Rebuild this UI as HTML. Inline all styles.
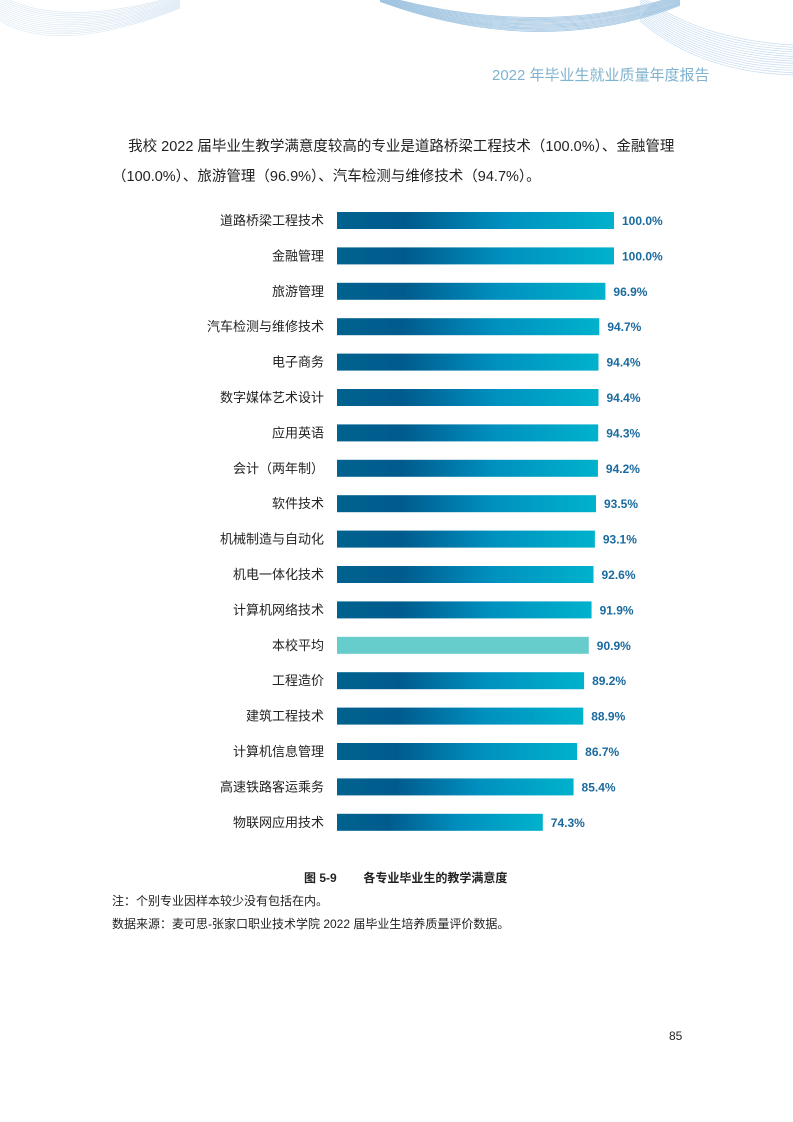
<!DOCTYPE html>
<html><head><meta charset="utf-8">
<style>
body{margin:0;background:#fff;}
#page{position:relative;width:793px;height:1122px;overflow:hidden;font-family:"Liberation Sans","Noto Sans CJK SC",sans-serif;color:#222;}
.t{position:absolute;white-space:nowrap;}
</style></head>
<body>
<div id="page">
<svg width="793" height="110" style="position:absolute;left:0;top:0">
<g fill="none" stroke="#9ec3e0" stroke-width="0.7" id="deco"></g>
</svg>
<div class="t" style="left:492px;top:64px;font-size:15px;color:#7fb3cf;">2022 年毕业生就业质量年度报告</div>
<div class="t" style="left:112px;top:132px;font-size:14.5px;line-height:30px;color:#222;">
&nbsp;&nbsp;&nbsp;&nbsp;我校 2022 届毕业生教学满意度较高的专业是道路桥梁工程技术（100.0%）、金融管理<br>（100.0%）、旅游管理（96.9%）、汽车检测与维修技术（94.7%）。</div>
<svg id="chart" width="793" height="850" style="position:absolute;left:0;top:0">
<defs><linearGradient id="g" x1="0" x2="1" y1="0" y2="0">
<stop offset="0" stop-color="#00628f"/><stop offset="0.25" stop-color="#005b8d"/><stop offset="0.6" stop-color="#0090bf"/><stop offset="1" stop-color="#00b2cc"/></linearGradient></defs>
</svg>
<div class="t" style="left:304px;top:869px;font-size:12px;font-weight:bold;">图 5-9&nbsp;&nbsp;&nbsp;&nbsp;&nbsp;&nbsp;&nbsp;&nbsp;各专业毕业生的教学满意度</div>
<div class="t" style="left:112px;top:892px;font-size:12px;">注：个别专业因样本较少没有包括在内。</div>
<div class="t" style="left:112px;top:915px;font-size:12px;">数据来源：麦可思-张家口职业技术学院 2022 届毕业生培养质量评价数据。</div>
<div class="t" style="left:669px;top:1029px;font-size:12px;">85</div>
</div>
<script>
const categories=["道路桥梁工程技术","金融管理","旅游管理","汽车检测与维修技术","电子商务","数字媒体艺术设计","应用英语","会计（两年制）","软件技术","机械制造与自动化","机电一体化技术","计算机网络技术","本校平均","工程造价","建筑工程技术","计算机信息管理","高速铁路客运乘务","物联网应用技术"];
const values=[100.0,100.0,96.9,94.7,94.4,94.4,94.3,94.2,93.5,93.1,92.6,91.9,90.9,89.2,88.9,86.7,85.4,74.3];
const labels=["100.0%","100.0%","96.9%","94.7%","94.4%","94.4%","94.3%","94.2%","93.5%","93.1%","92.6%","91.9%","90.9%","89.2%","88.9%","86.7%","85.4%","74.3%"];
const NS="http://www.w3.org/2000/svg";
const svg=document.getElementById('chart');
const x0=337,xw=277,y0=212,step=35.4,bh=17;
const xs=v=>xw*v/100;
categories.forEach((c,i)=>{
 const y=y0+i*step;
 const r=document.createElementNS(NS,'rect');
 r.setAttribute('x',x0);r.setAttribute('y',y);r.setAttribute('width',xs(values[i]));r.setAttribute('height',bh);
 r.setAttribute('fill',c==="本校平均"?"#66cccc":"url(#g)");
 
 
 svg.appendChild(r);
 const t=document.createElementNS(NS,'text');
 t.setAttribute('x',x0-13);t.setAttribute('y',y+13);t.setAttribute('text-anchor','end');t.setAttribute('font-size','13');t.setAttribute('fill','#222');
 t.textContent=c;
 
 
 svg.appendChild(t);
 const v=document.createElementNS(NS,'text');
 v.setAttribute('x',x0+xs(values[i])+8);v.setAttribute('y',y+13);v.setAttribute('font-size','12');v.setAttribute('font-weight','bold');v.setAttribute('fill','#1a6a9e');
 v.textContent=labels[i];
 
 
 svg.appendChild(v);
});
const d=document.getElementById('deco');
for(let k=0;k<14;k++){
 const p=document.createElementNS(NS,'path');
 p.setAttribute('d',`M 380 ${-5+k*0.5} Q 540 ${40+k*1.5} 680 ${-5+k*0.8}`);
 d.appendChild(p);
 const q=document.createElementNS(NS,'path');
 q.setAttribute('d',`M 640 ${-5+k*2} Q 700 ${40+k*2.5} 793 ${45+k*2.3}`);
 q.setAttribute('stroke','#c5dcf0');
 d.appendChild(q);
 const s=document.createElementNS(NS,'path');
 s.setAttribute('d',`M 0 ${-5+k*2} Q 60 ${30+k*2} 180 ${-5+k*1}`);
 s.setAttribute('stroke','#dbe8f4');
 d.appendChild(s);
}
</script>
</body></html>
